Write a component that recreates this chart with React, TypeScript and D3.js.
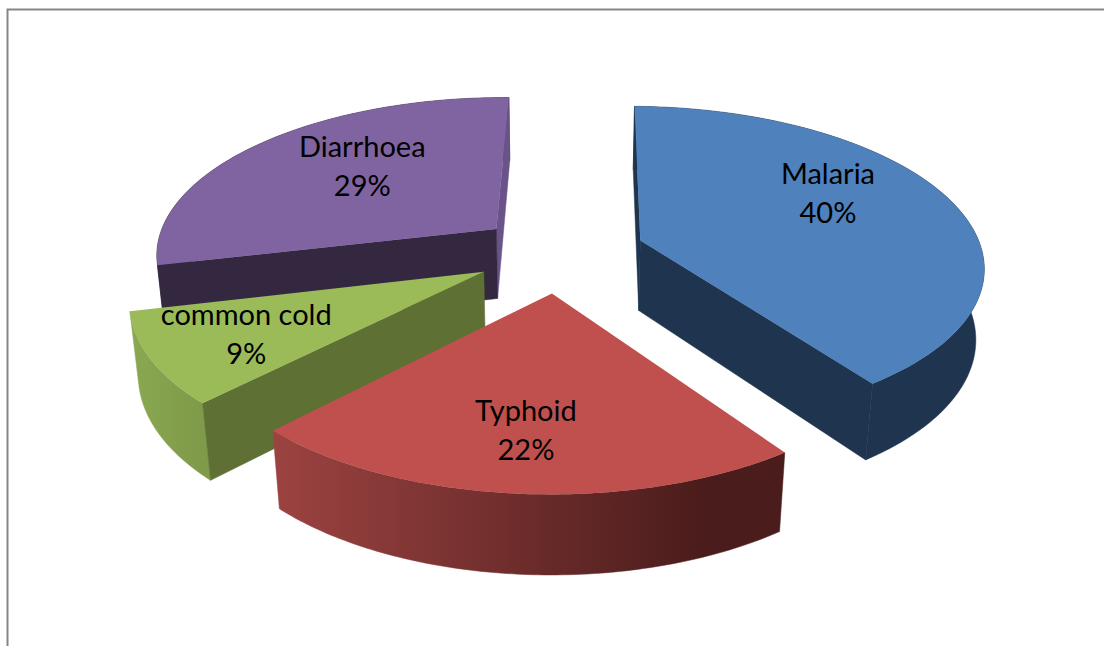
import React from "react";
import * as d3 from "d3";

// Disease shares, clockwise from twelve o'clock
const diseases = ["Malaria", "Typhoid", "common cold", "Diarrhoea"];
const shares = [40, 22, 9, 29];
// How far each slice is pulled out of the pie
const explosions = [86, 87, 85, 82];
// Slices furthest from the viewer are painted first
const paintOrder = [3, 0, 2, 1];
const labelAngles = [62, 185, 240, 315];
const labelRadii = [0.67, 0.72, 0.73, 0.62];

const topColors = ["#4f81bd", "#c0504d", "#9bbb59", "#8064a2"];
const startWallColors = ["#1f344e", "#4f1e1d", "#5e7033", "#332840"];
const endWallColors = ["#1f344e", "#4f1e1d", "#5e7033", "#6a5389"];
const rimGradients = [
  ["#1f344e", "#1f344e"],
  ["#4a1c1b", "#9c4341"],
  ["#7f9a49", "#8aa851"],
  ["#332840", "#332840"],
];

const W = 1104;
const H = 646;
const cx = 559;
const cy = 252;
const R = 342;
const DEPTH = 2300;
const TILT = 0.46;
const THICK = 72;
const BOTTOM_SHRINK = 0.02;
const ROTATION = (0.9 * Math.PI) / 180;

type P = [number, number];

// Perspective projection of a ground-plane point; z=0 is the top face, z=1 the underside
function project(u: number, v: number, z: number): P {
  const w = 1 - v / DEPTH + z * BOTTOM_SHRINK;
  return [cx + u / w, cy + (TILT * v + z * THICK) / w];
}

const polar = (a: number, r: number): P => [r * Math.sin(a), -r * Math.cos(a)];

const pie = d3
  .pie<number>()
  .sort(null)
  .startAngle(ROTATION)
  .endAngle(2 * Math.PI + ROTATION)
  .value((d) => d);
const arcs = pie(shares);
const toPath = d3.line<P>();

function sliceGeometry(i: number) {
  const a = arcs[i];
  const mid = (a.startAngle + a.endAngle) / 2;
  const [ox, oy] = polar(mid, explosions[i]);
  const at = d3
    .scaleLinear()
    .domain([0, 1])
    .range([a.startAngle, a.endAngle]);
  const samples = d3.range(0, 1.0001, 1 / 90);
  const ground = samples.map((t) => {
    const [x, y] = polar(at(t), R);
    return [x + ox, y + oy] as P;
  });
  const apexTop = project(ox, oy, 0);
  const apexBottom = project(ox, oy, 1);
  const rimTop = ground.map((g) => project(g[0], g[1], 0));
  const rimBottom = ground.map((g) => project(g[0], g[1], 1));
  return { ox, oy, apexTop, apexBottom, rimTop, rimBottom };
}

export default function App() {
  return (
    <svg
      width={W}
      height={H}
      viewBox={`0 0 ${W} ${H}`}
      style={{ position: "absolute", left: 0, top: 0, background: "#fff" }}
    >
      <defs>
        {diseases.map((_, i) => {
          const g = sliceGeometry(i);
          const xs = g.rimTop.map((p) => p[0]);
          const right = i === 1 ? d3.max(xs)! - 80 : d3.max(xs)!;
          return (
            <linearGradient
              key={i}
              id={`rim-${i}`}
              gradientUnits="userSpaceOnUse"
              x1={right}
              x2={d3.min(xs)!}
              y1={0}
              y2={0}
            >
              <stop offset="0" stopColor={rimGradients[i][0]} />
              <stop offset="1" stopColor={rimGradients[i][1]} />
            </linearGradient>
          );
        })}
      </defs>
      <path d="M7.5 646V9.5H1104" fill="none" stroke="#868686" strokeWidth={2} />
      {paintOrder.map((i) => {
        const g = sliceGeometry(i);
        const startWall: P[] = [g.apexTop, g.rimTop[0], g.rimBottom[0], g.apexBottom];
        const endWall: P[] = [
          g.apexTop,
          g.rimTop[g.rimTop.length - 1],
          g.rimBottom[g.rimBottom.length - 1],
          g.apexBottom,
        ];
        // A radial wall is drawn only when it turns towards the viewer
        const showStart = d3.polygonArea(startWall) > 0;
        const showEnd = d3.polygonArea(endWall) < 0;
        return (
          <g key={i}>
            <path
              d={toPath([...g.rimTop, ...[...g.rimBottom].reverse()])! + "Z"}
              fill={`url(#rim-${i})`}
              stroke={`url(#rim-${i})`}
              strokeWidth={0.5}
            />
            {showEnd && (
              <path
                d={toPath(endWall)! + "Z"}
                fill={endWallColors[i]}
                stroke={endWallColors[i]}
                strokeWidth={0.5}
              />
            )}
            {showStart && (
              <path
                d={toPath(startWall)! + "Z"}
                fill={startWallColors[i]}
                stroke={startWallColors[i]}
                strokeWidth={0.5}
              />
            )}
            <path
              d={toPath([g.apexTop, ...g.rimTop])! + "Z"}
              fill={topColors[i]}
            />
          </g>
        );
      })}
      {diseases.map((name, i) => {
        const g = sliceGeometry(i);
        const a = (labelAngles[i] * Math.PI) / 180;
        const [lx, ly] = polar(a, labelRadii[i] * R);
        const [x, y] = project(g.ox + lx, g.oy + ly, 0);
        return (
          <text
            key={name}
            x={x}
            y={y}
            textAnchor="middle"
            fontFamily="Lato, 'Open Sans', sans-serif"
            fontSize={29}
            fill="#000"
          >
            <tspan x={x} dy={-10}>
              {name}
            </tspan>
            <tspan x={x} dy={39}>
              {shares[i]}%
            </tspan>
          </text>
        );
      })}
    </svg>
  );
}
